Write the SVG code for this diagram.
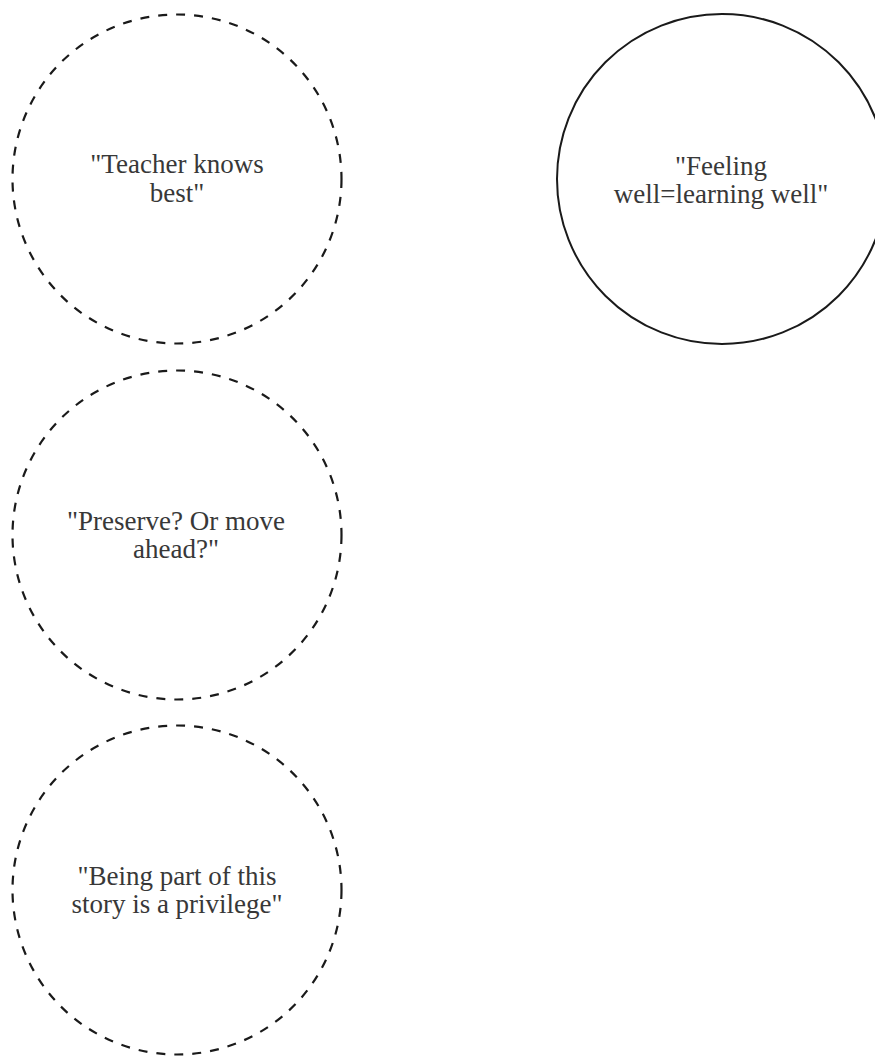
<svg xmlns="http://www.w3.org/2000/svg" width="875" height="1057" viewBox="0 0 875 1057">
<style>
.bg{fill:#ffffff}
.dash{fill:none;stroke:#1a1a1a;stroke-width:2.2;stroke-dasharray:9 9}
.solid{fill:none;stroke:#1a1a1a;stroke-width:2}
.lbl{font-family:"Liberation Serif","Times New Roman",serif;font-size:27px;fill:#383838;text-anchor:middle}
</style>
<rect class="bg" x="0" y="0" width="875" height="1057"/>
<g id="connectors"></g>
<g id="node-teacher">
<circle class="dash" cx="177" cy="179" r="164.5"/>
<text class="lbl" x="177" y="173">"Teacher knows</text>
<text class="lbl" x="177" y="202">best"</text>
</g>
<g id="node-feeling">
<circle class="solid" cx="722" cy="179" r="165"/>
<text class="lbl" x="721" y="175">"Feeling</text>
<text class="lbl" x="721" y="203">well=learning well"</text>
</g>
<g id="node-preserve">
<circle class="dash" cx="177" cy="535" r="164.5"/>
<text class="lbl" x="176" y="530">"Preserve? Or move</text>
<text class="lbl" x="176" y="558">ahead?"</text>
</g>
<g id="node-being">
<circle class="dash" cx="177" cy="890" r="164.5"/>
<text class="lbl" x="177" y="885">"Being part of this</text>
<text class="lbl" x="177" y="913">story is a privilege"</text>
</g>
</svg>
